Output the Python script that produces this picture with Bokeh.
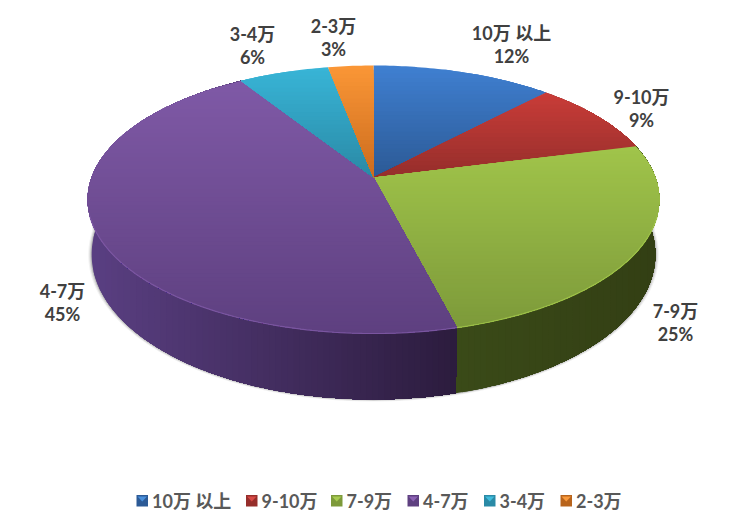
import math
from bokeh.plotting import figure
from bokeh.embed import file_html
from bokeh.resources import INLINE
from bokeh.core.properties import value

categories = ["10万 以上", "9-10万", "7-9万", "4-7万", "3-4万", "2-3万"]
shares = [12, 9, 25, 45, 6, 3]
pct_labels = ["12%", "9%", "25%", "45%", "6%", "3%"]
top_hi = ["#3f7fd0", "#c83c38", "#a0c44a", "#7f59a6", "#38b4d6", "#fa9636"]
top_lo = ["#2c5a96", "#962e2b", "#7d9a3a", "#5e4080", "#2a8aa6", "#cc6c1e"]
side_hi = ["#2c5a96", "#962e2b", "#3a4a18", "#5a3f82", "#2a8aa6", "#cc6c1e"]
side_lo = ["#1e3e68", "#6a1f1d", "#333f14", "#2c1c3e", "#1d6075", "#8e4a14"]
legend_hi = ["#4a90dc", "#d84a46", "#a8cc50", "#8c62b4", "#40bcdc", "#fa9a3c"]
legend_lo = ["#2c5a96", "#962e2b", "#7d9a3a", "#5e4080", "#2a8aa6", "#b8641c"]
label_pos = [(512, 44), (642, 108), (676, 322), (63, 302), (253, 45), (334, 37)]
legend_x = [137, 246.5, 331.5, 408, 484.5, 561]

# perspective mapping of the unit disc on the picture (pixels)
CX, CY, K, A, C = 374.0, 178.0, 282.0, -101.16, 0.1642
FONT = value("Lato, 'Noto Sans CJK SC', sans-serif")
TXT = "#595959"


def proj(u, v):
    d = C * v + 1
    return CX + K * u / d, (A * v + CY) / d


def rim(t):
    return proj(math.sin(t), math.cos(t))


def lower(pt, grow=0.0):
    # the matching point on the disc that closes the wall underneath
    x, y = pt
    return CX + (x - CX) * (0.986 + grow), 255 + (y - 200) * (1.082 + grow) + grow * 40


def mix(c1, c2, f):
    a = [int(c1[i:i + 2], 16) for i in (1, 3, 5)]
    b = [int(c2[i:i + 2], 16) for i in (1, 3, 5)]
    return "#%02x%02x%02x" % tuple(round(a[i] + (b[i] - a[i]) * f) for i in range(3))


def clip_below(poly, y0):
    out = []
    for i, (x1, y1) in enumerate(poly):
        x2, y2 = poly[(i + 1) % len(poly)]
        if y1 >= y0:
            out.append((x1, y1))
        if (y1 >= y0) != (y2 >= y0):
            f = (y0 - y1) / (y2 - y1)
            out.append((x1 + (x2 - x1) * f, y0))
    return out


def clip_left(poly, x0):
    out = []
    for i, (x1, y1) in enumerate(poly):
        x2, y2 = poly[(i + 1) % len(poly)]
        if x1 >= x0:
            out.append((x1, y1))
        if (x1 >= x0) != (x2 >= x0):
            f = (x0 - x1) / (x2 - x1)
            out.append((x0, y1 + (y2 - y1) * f))
    return out


p = figure(width=734, height=516, x_range=(1, 735), y_range=(517, 1),
           output_backend="svg", toolbar_location=None, min_border=0,
           outline_line_color=None, background_fill_color="white", border_fill_color="white")
p.axis.visible = False
p.grid.visible = False

# wedges
bounds = []
acc = 0.0
for s in shares:
    bounds.append((acc, acc + s))
    acc += s
total = float(acc)
wedges = []
for a0, a1 in bounds:
    t0, t1 = a0 / total * 2 * math.pi, a1 / total * 2 * math.pi
    n = max(4, int((t1 - t0) * 60))
    wedges.append((t0, t1, [rim(t0 + (t1 - t0) * i / n) for i in range(n + 1)]))

# soft drop shadow under the wall
shadow = [rim(math.pi / 2 + math.pi * i / 120) for i in range(121)]
for grow, al in ((0.012, 0.05), (0.008, 0.09), (0.004, 0.15)):
    low = [lower(q, grow) for q in shadow]
    p.patch([q[0] for q in low] + [q[0] for q in shadow[::-1]],
            [q[1] for q in low] + [q[1] for q in shadow[::-1]],
            fill_color="#000000", fill_alpha=al, line_color=None)

# side wall: vertical stripes painted left to right
for i, (t0, t1, arc) in enumerate(wedges):
    if t0 >= math.pi * 1.75 or t1 <= math.pi * 0.4:
        continue
    poly = list(arc) + [lower(q) for q in arc[::-1]]
    xs_all = [q[0] for q in poly]
    x_min, x_max = min(xs_all), max(xs_all)
    steps = max(2, int((x_max - x_min) / 6))
    for k in range(steps):
        x0 = x_min + (x_max - x_min) * k / steps
        c = clip_left(poly, x0)
        if len(c) < 3:
            continue
        col = mix(side_hi[i], side_lo[i], k / max(1, steps - 1))
        p.patch([q[0] for q in c], [q[1] for q in c], fill_color=col, line_color=None)

# top faces: horizontal bands painted top to bottom
for i, (t0, t1, arc) in enumerate(wedges):
    poly = [(CX, CY)] + arc
    ys = [q[1] for q in poly]
    y_min, y_max = min(ys), max(ys)
    steps = max(2, int((y_max - y_min) / 4))
    for k in range(steps):
        y0 = y_min + (y_max - y_min) * k / steps
        c = clip_below(poly, y0)
        if len(c) < 3:
            continue
        col = mix(top_hi[i], top_lo[i], k / max(1, steps - 1))
        p.patch([q[0] for q in c], [q[1] for q in c], fill_color=col, line_color=None)

# rim highlight on the lower edge of the top face
for i, (t0, t1, arc) in enumerate(wedges):
    front = [q for q in arc if q[1] > 215]
    if len(front) > 1:
        p.line([q[0] for q in front], [q[1] for q in front], line_color=top_hi[i],
               line_width=1.2, line_alpha=0.85)

# data labels
lx = [q[0] for q in label_pos]
ly = [q[1] for q in label_pos]
p.text(lx, [y - 11 for y in ly], text=categories, text_font=FONT, text_font_style="bold",
       text_font_size="18px", text_color="#404040", text_align="center", text_baseline="middle")
p.text(lx, [y + 12 for y in ly], text=pct_labels, text_font=FONT, text_font_style="bold",
       text_font_size="18px", text_color="#404040", text_align="center", text_baseline="middle")

# legend
for i, x in enumerate(legend_x):
    p.quad(left=x, right=x + 11.5, top=495.5, bottom=507, fill_color=legend_lo[i], line_color=None)
    p.patch([x + 1, x + 10.5, x + 5.75], [497, 497, 502], fill_color=legend_hi[i], line_color=None)
p.text([x + 15.5 for x in legend_x], [501] * 6, text=categories, text_font=FONT, text_font_style="bold",
       text_font_size="18px", text_color=TXT, text_align="left", text_baseline="middle")

open("out.html", "w").write(file_html(p, INLINE))
